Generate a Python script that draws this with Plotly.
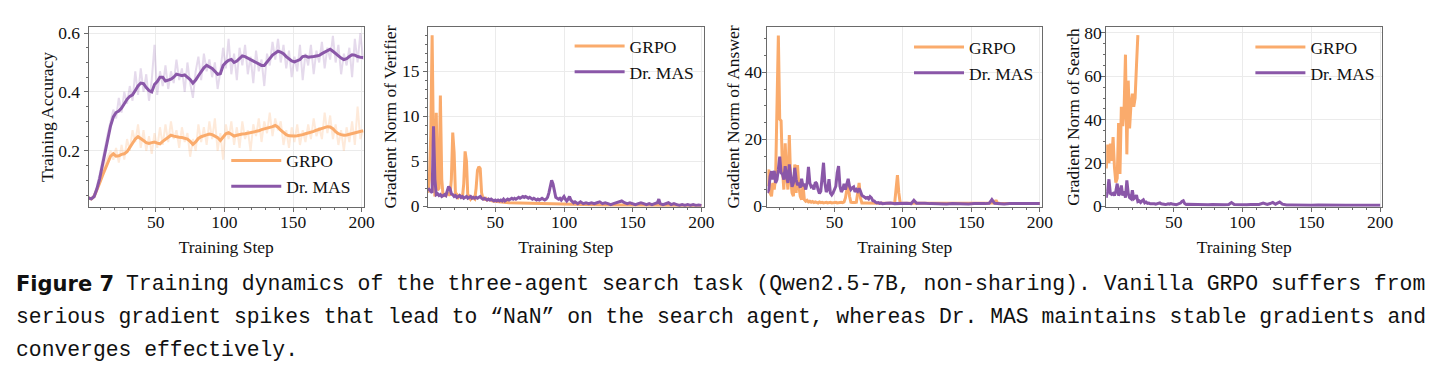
import plotly.graph_objects as go

# ---------------- data ----------------
# Panel 1: training accuracy (smoothed + raw)
acc_smooth_steps = [1, 3, 5, 7, 9, 11, 13, 15, 17, 19, 21, 23, 25, 27, 29, 31, 33, 35, 37, 39,
                    41, 43, 45, 47, 49, 51, 53, 55, 57, 59, 61, 63, 65, 67, 69, 71, 73, 75, 77, 79,
                    81, 83, 85, 87, 89, 91, 93, 95, 97, 99, 101, 103, 105, 107, 109, 111, 113, 115, 117, 119,
                    121, 123, 125, 127, 129, 131, 133, 135, 137, 139, 141, 143, 145, 147, 149, 151, 153, 155, 157, 159,
                    161, 163, 165, 167, 169, 171, 173, 175, 177, 179, 181, 183, 185, 187, 189, 191, 193, 195, 197, 199, 201]
mas_acc_smooth = [0.04, 0.037, 0.045, 0.07, 0.105, 0.15, 0.205, 0.25, 0.285, 0.315, 0.33, 0.335, 0.345, 0.36, 0.375, 0.385, 0.39, 0.405, 0.42, 0.43,
                  0.428, 0.415, 0.405, 0.40, 0.425, 0.435, 0.45, 0.45, 0.437, 0.44, 0.443, 0.45, 0.46, 0.458, 0.455, 0.458, 0.45, 0.442, 0.43, 0.44,
                  0.455, 0.47, 0.482, 0.49, 0.485, 0.48, 0.47, 0.46, 0.462, 0.49, 0.50, 0.507, 0.51, 0.50, 0.505, 0.515, 0.522, 0.52, 0.515, 0.51,
                  0.505, 0.50, 0.497, 0.49, 0.49, 0.50, 0.513, 0.525, 0.533, 0.538, 0.535, 0.53, 0.52, 0.513, 0.505, 0.502, 0.505, 0.51, 0.52, 0.522,
                  0.518, 0.518, 0.52, 0.522, 0.524, 0.53, 0.535, 0.54, 0.545, 0.538, 0.53, 0.522, 0.515, 0.51, 0.513, 0.52, 0.526, 0.525, 0.52, 0.518, 0.517]
grpo_acc_smooth = [0.04, 0.037, 0.045, 0.065, 0.09, 0.115, 0.14, 0.16, 0.182, 0.19, 0.182, 0.183, 0.188, 0.19, 0.197, 0.21, 0.225, 0.24, 0.248, 0.24,
                   0.235, 0.228, 0.225, 0.228, 0.23, 0.226, 0.224, 0.232, 0.24, 0.248, 0.253, 0.25, 0.247, 0.246, 0.245, 0.243, 0.24, 0.232, 0.222, 0.23,
                   0.242, 0.248, 0.25, 0.254, 0.257, 0.255, 0.25, 0.245, 0.235, 0.245, 0.258, 0.262, 0.255, 0.25, 0.253, 0.256, 0.257, 0.258, 0.26, 0.262,
                   0.262, 0.265, 0.268, 0.272, 0.274, 0.276, 0.278, 0.282, 0.286, 0.28, 0.27, 0.262, 0.255, 0.251, 0.25, 0.25, 0.251, 0.252, 0.255, 0.258,
                   0.26, 0.262, 0.266, 0.27, 0.273, 0.276, 0.279, 0.282, 0.281, 0.275, 0.265, 0.258, 0.255, 0.253, 0.254, 0.256, 0.258, 0.26, 0.263, 0.265, 0.268]

acc_raw_steps = [1, 3, 5, 7, 9, 11, 13, 15, 17, 19, 21, 23, 25, 27, 29, 31, 33, 35, 37, 39,
                 41, 43, 45, 47, 49, 51, 53, 55, 57, 59, 61, 63, 65, 67, 69, 71, 73, 75, 77, 79,
                 81, 83, 85, 87, 89, 91, 93, 95, 97, 99, 101, 103, 105, 107, 109, 111, 113, 115, 117, 119,
                 121, 123, 125, 127, 129, 131, 133, 135, 137, 139, 141, 143, 145, 147, 149, 151, 153, 155, 157, 159,
                 161, 163, 165, 167, 169, 171, 173, 175, 177, 179, 181, 183, 185, 187, 189, 191, 193, 195, 197, 199, 201]
mas_acc_raw = [0.04, 0.035, 0.05, 0.08, 0.12, 0.17, 0.22, 0.26, 0.30, 0.34, 0.31, 0.38, 0.33, 0.40, 0.36, 0.42, 0.37, 0.47, 0.39, 0.48,
               0.40, 0.46, 0.37, 0.44, 0.56, 0.39, 0.47, 0.42, 0.49, 0.41, 0.47, 0.43, 0.51, 0.44, 0.48, 0.40, 0.50, 0.43, 0.38, 0.47,
               0.52, 0.44, 0.53, 0.47, 0.51, 0.45, 0.50, 0.41, 0.47, 0.55, 0.48, 0.58, 0.46, 0.53, 0.44, 0.55, 0.49, 0.56, 0.46, 0.52,
               0.43, 0.54, 0.47, 0.51, 0.42, 0.53, 0.49, 0.57, 0.51, 0.58, 0.50, 0.56, 0.48, 0.54, 0.45, 0.52, 0.47, 0.56, 0.44, 0.53,
               0.49, 0.56, 0.46, 0.54, 0.50, 0.57, 0.48, 0.55, 0.51, 0.59, 0.50, 0.56, 0.46, 0.53, 0.49, 0.55, 0.45, 0.58, 0.50, 0.60, 0.51]
grpo_acc_raw = [0.04, 0.035, 0.05, 0.07, 0.10, 0.13, 0.16, 0.18, 0.20, 0.17, 0.21, 0.16, 0.22, 0.17, 0.24, 0.20, 0.27, 0.23, 0.29, 0.21,
                0.27, 0.20, 0.25, 0.19, 0.26, 0.21, 0.28, 0.22, 0.29, 0.23, 0.30, 0.24, 0.27, 0.21, 0.28, 0.23, 0.26, 0.18, 0.24, 0.20,
                0.29, 0.23, 0.28, 0.22, 0.30, 0.24, 0.31, 0.20, 0.26, 0.17, 0.29, 0.24, 0.30, 0.22, 0.28, 0.21, 0.30, 0.24, 0.27, 0.20,
                0.29, 0.25, 0.31, 0.23, 0.30, 0.26, 0.33, 0.25, 0.31, 0.27, 0.30, 0.22, 0.27, 0.21, 0.28, 0.23, 0.29, 0.22, 0.27, 0.23,
                0.29, 0.24, 0.31, 0.25, 0.28, 0.24, 0.33, 0.26, 0.32, 0.24, 0.29, 0.22, 0.27, 0.20, 0.28, 0.23, 0.30, 0.22, 0.35, 0.24, 0.27]

# Panel 2: gradient norm of verifier
ver_grpo_steps = list(range(1, 46)) + [48, 52, 56, 60, 65, 70, 75, 80, 85, 90, 95, 100, 110, 120, 130, 140, 150, 160, 170, 180, 190, 200]
ver_grpo = [1.5, 3.0, 8.0, 19.0, 6.0, 1.1, 10.4, 1.8, 2.0, 12.3, 3.0, 1.1, 1.3, 1.2, 1.5, 1.3, 1.2, 3.0, 8.2, 6.0,
            1.2, 1.3, 1.0, 1.2, 1.1, 0.9, 2.5, 6.1, 5.0, 1.0, 1.1, 0.8, 1.0, 0.9, 0.8, 2.0, 4.0, 4.4, 4.2, 1.5,
            0.9, 0.8, 0.9, 0.7, 0.8,
            0.6, 0.5, 0.45, 0.4, 0.38, 0.35, 0.33, 0.3, 0.28, 0.26, 0.24, 0.22, 0.2, 0.18, 0.16, 0.15, 0.14, 0.13, 0.12, 0.11, 0.1, 0.1]
ver_mas_steps = list(range(1, 111)) + list(range(112, 169, 2)) + [169] + list(range(170, 201, 2))
ver_mas = [2.0, 1.8, 1.6, 1.5, 8.9, 3.0, 1.3, 1.4, 1.2, 1.3, 1.1, 1.2, 1.3, 1.2, 1.6, 2.2, 2.0, 1.4, 1.3, 1.1,
           1.2, 1.0, 1.1, 1.2, 1.0, 1.1, 0.9, 1.0, 1.1, 0.9, 1.0, 1.1, 0.9, 1.0, 0.9, 1.0, 0.9, 1.0, 1.1, 0.9,
           0.8, 0.9, 0.8, 0.7, 0.8, 0.7, 0.8, 0.7, 0.6, 0.7, 0.6, 0.7, 0.6, 0.7, 0.6, 0.8, 0.6, 0.7, 0.8, 0.7,
           0.8, 0.9, 0.8, 0.9, 0.8, 0.9, 1.0, 0.9, 1.0, 1.1, 1.0, 1.1, 1.0, 0.9, 1.0, 0.9, 0.8, 0.9, 0.8, 0.7,
           0.8, 0.7, 0.8, 0.9, 0.8, 0.7, 0.8, 1.0, 1.5, 2.3, 2.9, 2.5, 1.6, 1.0, 0.9, 0.8, 0.9, 0.7, 0.9, 1.1,
           0.8, 0.6, 0.8, 1.1, 0.7, 0.5, 0.4, 0.5, 0.4, 0.3,
           0.5, 0.3, 0.4, 0.3, 0.4, 0.3, 0.4, 0.5, 0.3, 0.4, 0.3, 0.2, 0.3, 0.4, 0.5, 0.6, 0.4, 0.3, 0.4, 0.3,
           0.2, 0.3, 0.4, 0.3, 0.2, 0.3, 0.2, 0.3, 0.4,
           0.8,
           0.3, 0.2, 0.3, 0.4, 0.2, 0.3, 0.2, 0.1, 0.2, 0.1, 0.2, 0.1, 0.2, 0.1, 0.15, 0.1]

# Panel 3: gradient norm of answer
ans_grpo_steps = list(range(1, 71)) + [73, 76, 79, 82, 85, 88, 91, 94, 95, 96, 97, 98, 99, 102, 106, 110, 115, 120, 125,
                                       130, 135, 140, 145, 150, 155, 160, 165, 167, 168, 169, 172, 176, 180, 185, 190, 195, 200]
ans_grpo = [6, 11, 4, 3, 7, 5, 8.5, 30, 51, 26, 25.5, 11, 5, 18.8, 9, 5, 21.3, 8, 4, 3,
            12.5, 4, 12.3, 6, 3, 2, 6.5, 2, 1.5, 1.8, 1.3, 1.5, 1.2, 1.4, 1.1, 1.3, 1.2, 1.0, 1.3, 1.1,
            1.2, 1.0, 1.1, 1.2, 1.0, 1.1, 1.2, 1.0, 1.1, 1.0, 1.2, 1.0, 1.1, 1.0, 1.2, 1.1, 1.3, 2.5, 5.5, 7.2,
            3.0, 1.2, 1.1, 1.0, 1.1, 1.2, 4.5, 7.0, 2.5, 1.0,
            1.0, 0.9, 1.0, 0.9, 0.9, 0.8, 0.9, 1.0, 5.0, 9.3, 4.0, 1.0, 0.9, 0.9, 0.8, 0.9, 0.8, 0.8, 0.9,
            0.8, 0.8, 0.9, 0.8, 0.8, 0.9, 0.8, 0.8, 1.0, 1.8, 1.0, 0.8, 0.8, 0.8, 0.8, 0.8, 0.8, 0.8]
ans_mas_steps = list(range(1, 86)) + [88, 91, 94, 97, 100, 103, 106, 108, 110, 113, 116, 120, 124, 128, 132, 136, 140, 144,
                                      148, 152, 156, 160, 163, 165, 167, 170, 174, 178, 182, 186, 190, 194, 198, 200]
ans_mas = [4, 5, 9, 10.5, 8, 10.6, 7, 8, 11, 14.8, 10, 9.6, 8, 12, 9, 7, 12.5, 8, 5.8, 7,
           11.5, 8, 6.3, 7, 5.5, 8.2, 6, 6.7, 5, 7, 11.8, 7, 5.8, 6, 5, 7.2, 6.8, 5, 3.8, 4.5,
           8, 13, 7, 4.3, 5, 8.1, 4, 3.4, 4, 5, 6, 10, 12, 6, 4.3, 5, 6.7, 5, 7, 8.2,
           6, 5, 5.5, 5.8, 4.3, 5, 4.5, 5.3, 4.5, 3.3, 3, 2.8, 2.4, 2.6, 2.2, 2.9, 2.5, 1.7, 1.6, 1.2,
           1.0, 1.1, 0.9, 1.0, 0.8,
           0.9, 1.0, 0.8, 0.9, 1.0, 0.9, 0.8, 1.8, 0.9, 0.8, 0.9, 0.8, 0.7, 0.8, 0.7, 0.8, 0.7, 0.8,
           0.7, 0.8, 0.7, 0.8, 0.9, 2.0, 0.9, 0.8, 0.7, 0.8, 0.7, 0.8, 0.8, 0.7, 0.8, 0.8]

# Panel 4: gradient norm of search (GRPO diverges to NaN after step 24)
sea_grpo_steps = list(range(1, 25))
sea_grpo = [17.5, 28.5, 20, 29, 21, 32, 18, 11, 13, 38.5, 15, 46, 37, 45, 70, 24, 58, 36, 47, 52, 46, 50, 65, 79]
sea_mas_steps = list(range(1, 61)) + [63, 66, 69, 72, 75, 78, 81, 84, 87, 90, 92, 94, 97, 100, 103, 106, 109, 112, 115,
                                      118, 120, 122, 124, 126, 127, 129, 132, 136, 140, 145, 150, 155, 160, 165, 170, 175,
                                      180, 185, 190, 195, 200]
sea_mas = [4, 7, 12.5, 6, 5.5, 6, 5, 7, 10.5, 5, 6, 9.6, 5, 7, 4, 12, 6, 4, 3.5, 7.4,
           3.5, 4, 5.2, 2.2, 2.5, 1.8, 2.5, 3.0, 1.6, 2.0, 1.4, 1.5, 1.2, 1.3, 1.1, 1.2, 1.0, 1.2, 1.4, 1.6,
           1.2, 1.0, 1.1, 0.9, 1.0, 1.2, 1.0, 1.3, 1.1, 0.9, 1.0, 0.8, 1.0, 1.1, 1.5, 2.3, 2.6, 1.3, 0.9, 1.0,
           0.9, 0.8, 1.0, 0.9, 0.8, 0.9, 0.8, 0.9, 0.8, 0.9, 1.8, 0.9, 0.8, 0.9, 0.8, 0.9, 0.8, 0.9, 1.5,
           0.9, 1.3, 1.8, 1.0, 1.5, 2.0, 1.0, 0.6, 0.6, 0.5, 0.6, 0.5, 0.6, 0.5, 0.5, 0.6, 0.5,
           0.5, 0.5, 0.5, 0.5, 0.5]

series_names = ["GRPO", "Dr. MAS"]
y_titles = ["Training Accuracy", "Gradient Norm of Verifier", "Gradient Norm of Answer", "Gradient Norm of Search"]
x_title = "Training Step"
x_ticks = [50, 100, 150, 200]
y_ticks = [[0.2, 0.4, 0.6], [0, 5, 10, 15], [0, 20, 40], [0, 20, 40, 60, 80]]
y_ranges = [[0.01, 0.62], [-0.05, 19.9], [-0.15, 53.5], [-0.2, 82.7]]
y_minor = [0.05, 1, 5, 5]

caption_label = "Figure 7"
caption_lines = [
    "Training dynamics of the three-agent search task (Qwen2.5-7B, non-sharing). Vanilla GRPO suffers from",
    "serious gradient spikes that lead to “NaN” on the search agent, whereas Dr. MAS maintains stable gradients and",
    "converges effectively.",
]

# ---------------- style / layout ----------------
W, H = 1442, 383
ORANGE = "#FAAB6C"
PURPLE = "#8A57A8"
ORANGE_FAINT = "rgba(250,171,108,0.25)"
PURPLE_FAINT = "rgba(138,87,168,0.22)"
SERIF = "Liberation Serif"
FS = 17.5
TXT = "#111"

x_dom_px = [(89.3, 366.7), (431.3, 709.0), (773.3, 1050.0), (1114.7, 1393.0)]
y_dom_px = (24.0, 210.5)
y_label_standoff = [0, 0, -3, -4]

fig = go.Figure()

def ax_ids(i):
    return ("x" if i == 0 else f"x{i+1}", "y" if i == 0 else f"y{i+1}", "legend" if i == 0 else f"legend{i+1}")

# panel 1
xa, ya, lg = ax_ids(0)
fig.add_trace(go.Scatter(x=acc_raw_steps, y=grpo_acc_raw, mode="lines", line=dict(color=ORANGE_FAINT, width=2),
                         showlegend=False, xaxis=xa, yaxis=ya, hoverinfo="skip"))
fig.add_trace(go.Scatter(x=acc_raw_steps, y=mas_acc_raw, mode="lines", line=dict(color=PURPLE_FAINT, width=2),
                         showlegend=False, xaxis=xa, yaxis=ya, hoverinfo="skip"))
fig.add_trace(go.Scatter(x=acc_smooth_steps, y=grpo_acc_smooth, mode="lines", name=series_names[0],
                         line=dict(color=ORANGE, width=3), xaxis=xa, yaxis=ya, legend=lg))
fig.add_trace(go.Scatter(x=acc_smooth_steps, y=mas_acc_smooth, mode="lines", name=series_names[1],
                         line=dict(color=PURPLE, width=3), xaxis=xa, yaxis=ya, legend=lg))

panel_data = [
    (ver_grpo_steps, ver_grpo, ver_mas_steps, ver_mas),
    (ans_grpo_steps, ans_grpo, ans_mas_steps, ans_mas),
    (sea_grpo_steps, sea_grpo, sea_mas_steps, sea_mas),
]
for k, (gs, gv, ms, mv) in enumerate(panel_data, start=1):
    xa, ya, lg = ax_ids(k)
    fig.add_trace(go.Scatter(x=gs, y=gv, mode="lines", name=series_names[0],
                             line=dict(color=ORANGE, width=3), xaxis=xa, yaxis=ya, legend=lg))
    fig.add_trace(go.Scatter(x=ms, y=mv, mode="lines", name=series_names[1],
                             line=dict(color=PURPLE, width=3), xaxis=xa, yaxis=ya, legend=lg))

layout = dict(
    width=W, height=H,
    margin=dict(l=0, r=0, t=0, b=0),
    paper_bgcolor="white", plot_bgcolor="white",
    font=dict(family=SERIF, size=FS, color=TXT),
    showlegend=True,
)

AXCOL = "#6a6a6a"
GRID = "#ebebeb"
for i in range(4):
    xa, ya, lg = ax_ids(i)
    xkey = "xaxis" if i == 0 else f"xaxis{i+1}"
    ykey = "yaxis" if i == 0 else f"yaxis{i+1}"
    x0, x1 = x_dom_px[i]
    layout[xkey] = dict(
        domain=[x0 / W, x1 / W], anchor=ya, range=[1, 201.6],
        tickvals=x_ticks, ticks="outside", ticklen=4, tickwidth=1, tickcolor=AXCOL,
        ticklabelstandoff=-5,
        showline=True, linecolor=AXCOL, linewidth=1, mirror=True,
        showgrid=True, gridcolor=GRID, gridwidth=1, zeroline=False,
        tickfont=dict(family=SERIF, size=FS, color=TXT),
        title=dict(text=x_title, font=dict(family=SERIF, size=FS, color=TXT), standoff=9),
        minor=dict(dtick=10, tick0=0, ticks="outside", ticklen=2, tickcolor=AXCOL, showgrid=False),
    )
    layout[ykey] = dict(
        domain=[1 - y_dom_px[1] / H, 1 - y_dom_px[0] / H], anchor=xa, range=y_ranges[i],
        tickvals=y_ticks[i], ticks="outside", ticklen=4, tickwidth=1, tickcolor=AXCOL,
        ticklabelstandoff=y_label_standoff[i],
        showline=True, linecolor=AXCOL, linewidth=1, mirror=True,
        showgrid=True, gridcolor=GRID, gridwidth=1, zeroline=False,
        tickfont=dict(family=SERIF, size=FS, color=TXT),
        title=dict(text=y_titles[i], font=dict(family=SERIF, size=FS, color=TXT), standoff=0),
        minor=dict(dtick=y_minor[i], tick0=0, ticks="outside", ticklen=2, tickcolor=AXCOL, showgrid=False),
    )

legend_pos_px = [(228, 144), (574, 25), (916, 26), (1260, 26)]
for i in range(4):
    _, _, lg = ax_ids(i)
    lx, ly = legend_pos_px[i]
    layout[lg] = dict(
        x=lx / W, y=1 - ly / H, xanchor="left", yanchor="top",
        bgcolor="rgba(0,0,0,0)", borderwidth=0,
        font=dict(family=SERIF, size=FS, color=TXT),
        itemwidth=50, tracegroupgap=0,
    )

fig.update_layout(**layout)

# caption (monospace-metric serif so the justified line widths can be matched)
CAP_FONT = "Liberation Mono"
fig.add_annotation(text="<b>" + caption_label + "</b>", x=14 / W, y=1 - 291 / H, xref="paper", yref="paper",
                   xanchor="left", yanchor="middle", showarrow=False,
                   font=dict(family="DejaVu Sans", size=21, color=TXT))
cap_left = [125, 14, 14]
cap_right = 1424
cap_y = [291, 325, 359]
cap_sizes = [(cap_right - cap_left[0]) / (0.6 * len(caption_lines[0])),
             (cap_right - cap_left[1]) / (0.6 * len(caption_lines[1]))]
cap_sizes.append(cap_sizes[1])
for cx, cy, fs, line in zip(cap_left, cap_y, cap_sizes, caption_lines):
    fig.add_annotation(text=line, x=cx / W, y=1 - cy / H, xref="paper", yref="paper",
                       xanchor="left", yanchor="middle", showarrow=False,
                       font=dict(family=CAP_FONT, size=round(fs, 2), color=TXT))

fig.write_html("out.html")
